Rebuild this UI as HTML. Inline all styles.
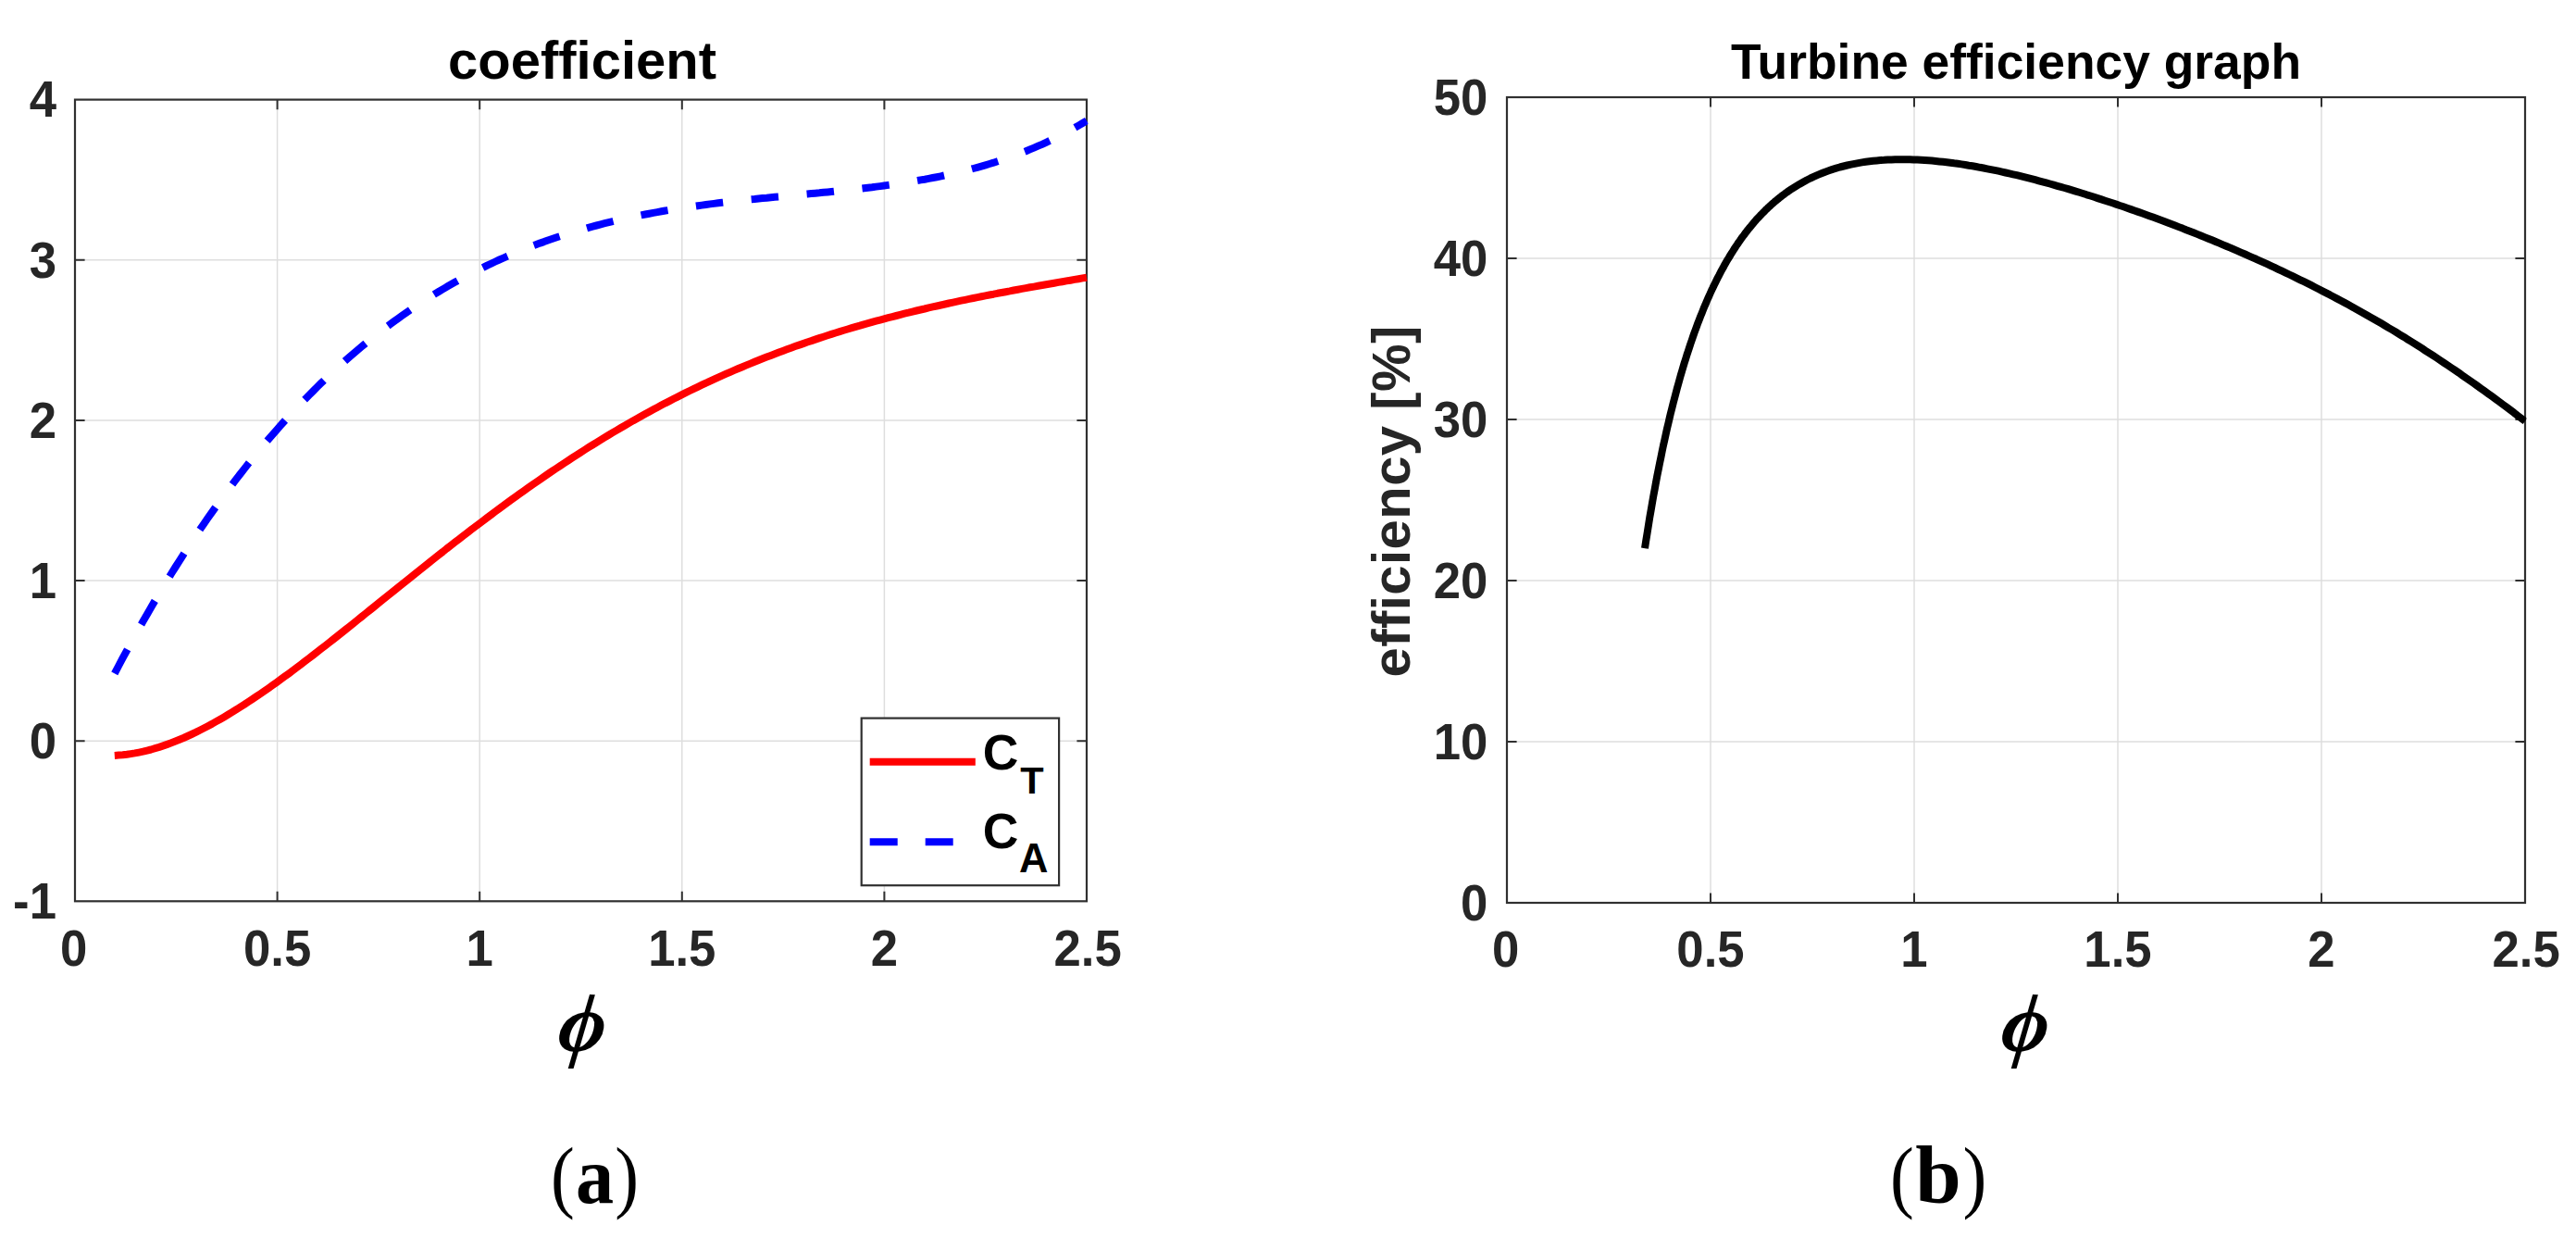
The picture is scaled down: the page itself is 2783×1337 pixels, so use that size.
<!DOCTYPE html>
<html lang="en"><head><meta charset="utf-8"><title>Turbine coefficient and efficiency graphs</title>
<style>html,body{margin:0;padding:0;background:#fff}body{width:2783px;height:1337px;overflow:hidden}svg{display:block}text{font-family:"Liberation Sans",Arial,Helvetica,sans-serif;font-weight:bold}.tk{font-size:55.2px;fill:#262626}.ser,.ser text{font-family:"Liberation Serif","Times New Roman",serif}</style></head><body>
<svg width="2783" height="1337" viewBox="0 0 2783 1337">
<rect width="2783" height="1337" fill="#fff"/>
<defs><clipPath id="cl"><rect x="81.0" y="107.6" width="1094.4" height="865.7"/></clipPath><clipPath id="cr"><rect x="1628.0" y="105.0" width="1101.4" height="870.0"/></clipPath></defs>
<path d="M299.6 107.6 V973.3 M518.2 107.6 V973.3 M736.8 107.6 V973.3 M955.4 107.6 V973.3 M81.0 800.2 H1174.0 M81.0 627.0 H1174.0 M81.0 453.9 H1174.0 M81.0 280.7 H1174.0" stroke="#dedede" stroke-width="1.5" fill="none"/>
<path d="M299.6 973.3 v-10.6 M299.6 107.6 v10.6 M518.2 973.3 v-10.6 M518.2 107.6 v10.6 M736.8 973.3 v-10.6 M736.8 107.6 v10.6 M955.4 973.3 v-10.6 M955.4 107.6 v10.6 M81.0 800.2 h10.6 M1174.0 800.2 h-10.6 M81.0 627.0 h10.6 M1174.0 627.0 h-10.6 M81.0 453.9 h10.6 M1174.0 453.9 h-10.6 M81.0 280.7 h10.6 M1174.0 280.7 h-10.6" stroke="#303030" stroke-width="2" fill="none"/>
<rect x="81.0" y="107.6" width="1093.0" height="865.7" fill="none" stroke="#303030" stroke-width="2.2"/>
<g clip-path="url(#cl)" fill="none" stroke-width="8" stroke-linejoin="round">
<path d="M123.8 815.9 L128.2 815.6 L132.6 815.3 L137.0 814.8 L141.3 814.1 L145.7 813.4 L150.1 812.6 L154.5 811.7 L158.9 810.6 L163.2 809.5 L167.6 808.2 L172.0 806.9 L176.4 805.4 L180.7 803.9 L185.1 802.3 L189.5 800.6 L193.9 798.8 L198.2 797.0 L202.6 795.0 L207.0 793.0 L211.4 790.9 L215.7 788.7 L220.1 786.5 L224.5 784.2 L228.9 781.9 L233.2 779.4 L237.6 776.9 L242.0 774.4 L246.4 771.8 L250.7 769.2 L255.1 766.4 L259.5 763.7 L263.9 760.9 L268.2 758.0 L272.6 755.1 L277.0 752.2 L281.4 749.2 L285.7 746.2 L290.1 743.2 L294.5 740.1 L298.9 736.9 L303.2 733.8 L307.6 730.6 L312.0 727.4 L316.4 724.1 L320.7 720.9 L325.1 717.6 L329.5 714.2 L333.9 710.9 L338.3 707.5 L342.6 704.1 L347.0 700.7 L351.4 697.3 L355.8 693.9 L360.1 690.5 L364.5 687.0 L368.9 683.5 L373.3 680.0 L377.6 676.6 L382.0 673.1 L386.4 669.5 L390.8 666.0 L395.1 662.5 L399.5 659.0 L403.9 655.5 L408.3 651.9 L412.6 648.4 L417.0 644.9 L421.4 641.4 L425.8 637.8 L430.1 634.3 L434.5 630.8 L438.9 627.3 L443.3 623.8 L447.6 620.3 L452.0 616.8 L456.4 613.3 L460.8 609.8 L465.1 606.3 L469.5 602.9 L473.9 599.4 L478.3 596.0 L482.6 592.5 L487.0 589.1 L491.4 585.7 L495.8 582.3 L500.2 578.9 L504.5 575.6 L508.9 572.2 L513.3 568.9 L517.7 565.6 L522.0 562.3 L526.4 559.0 L530.8 555.7 L535.2 552.4 L539.5 549.2 L543.9 546.0 L548.3 542.8 L552.7 539.6 L557.0 536.5 L561.4 533.3 L565.8 530.2 L570.2 527.1 L574.5 524.0 L578.9 521.0 L583.3 517.9 L587.7 514.9 L592.0 511.9 L596.4 508.9 L600.8 506.0 L605.2 503.1 L609.5 500.2 L613.9 497.3 L618.3 494.4 L622.7 491.6 L627.0 488.8 L631.4 486.0 L635.8 483.2 L640.2 480.5 L644.5 477.8 L648.9 475.1 L653.3 472.4 L657.7 469.8 L662.0 467.2 L666.4 464.6 L670.8 462.0 L675.2 459.5 L679.6 456.9 L683.9 454.4 L688.3 452.0 L692.7 449.5 L697.1 447.1 L701.4 444.7 L705.8 442.3 L710.2 440.0 L714.6 437.6 L718.9 435.3 L723.3 433.1 L727.7 430.8 L732.1 428.6 L736.4 426.4 L740.8 424.2 L745.2 422.0 L749.6 419.9 L753.9 417.8 L758.3 415.7 L762.7 413.7 L767.1 411.6 L771.4 409.6 L775.8 407.6 L780.2 405.7 L784.6 403.7 L788.9 401.8 L793.3 399.9 L797.7 398.0 L802.1 396.2 L806.4 394.4 L810.8 392.6 L815.2 390.8 L819.6 389.0 L823.9 387.3 L828.3 385.6 L832.7 383.9 L837.1 382.2 L841.5 380.5 L845.8 378.9 L850.2 377.3 L854.6 375.7 L859.0 374.1 L863.3 372.6 L867.7 371.1 L872.1 369.5 L876.5 368.1 L880.8 366.6 L885.2 365.1 L889.6 363.7 L894.0 362.3 L898.3 360.9 L902.7 359.5 L907.1 358.2 L911.5 356.8 L915.8 355.5 L920.2 354.2 L924.6 352.9 L929.0 351.7 L933.3 350.4 L937.7 349.2 L942.1 347.9 L946.5 346.7 L950.8 345.6 L955.2 344.4 L959.6 343.2 L964.0 342.1 L968.3 341.0 L972.7 339.8 L977.1 338.7 L981.5 337.7 L985.8 336.6 L990.2 335.5 L994.6 334.5 L999.0 333.5 L1003.3 332.4 L1007.7 331.4 L1012.1 330.5 L1016.5 329.5 L1020.9 328.5 L1025.2 327.5 L1029.6 326.6 L1034.0 325.7 L1038.4 324.7 L1042.7 323.8 L1047.1 322.9 L1051.5 322.0 L1055.9 321.1 L1060.2 320.3 L1064.6 319.4 L1069.0 318.5 L1073.4 317.7 L1077.7 316.8 L1082.1 316.0 L1086.5 315.2 L1090.9 314.4 L1095.2 313.5 L1099.6 312.7 L1104.0 311.9 L1108.4 311.1 L1112.7 310.3 L1117.1 309.6 L1121.5 308.8 L1125.9 308.0 L1130.2 307.2 L1134.6 306.5 L1139.0 305.7 L1143.4 304.9 L1147.7 304.2 L1152.1 303.4 L1156.5 302.7 L1160.9 301.9 L1165.2 301.2 L1169.6 300.4 L1174.0 299.7" stroke="#f00"/>
<path d="M123.8 727.3 L128.2 719.0 L132.6 710.7 L137.0 702.6 L141.3 694.6 L145.7 686.6 L150.1 678.8 L154.5 671.1 L158.9 663.4 L163.2 655.9 L167.6 648.4 L172.0 641.0 L176.4 633.8 L180.7 626.6 L185.1 619.5 L189.5 612.5 L193.9 605.6 L198.2 598.8 L202.6 592.0 L207.0 585.4 L211.4 578.8 L215.7 572.3 L220.1 566.0 L224.5 559.6 L228.9 553.4 L233.2 547.3 L237.6 541.2 L242.0 535.2 L246.4 529.3 L250.7 523.5 L255.1 517.7 L259.5 512.0 L263.9 506.4 L268.2 500.9 L272.6 495.5 L277.0 490.1 L281.4 484.8 L285.7 479.6 L290.1 474.4 L294.5 469.3 L298.9 464.3 L303.2 459.4 L307.6 454.5 L312.0 449.7 L316.4 445.0 L320.7 440.3 L325.1 435.7 L329.5 431.2 L333.9 426.7 L338.3 422.3 L342.6 418.0 L347.0 413.7 L351.4 409.5 L355.8 405.3 L360.1 401.2 L364.5 397.2 L368.9 393.3 L373.3 389.3 L377.6 385.5 L382.0 381.7 L386.4 378.0 L390.8 374.3 L395.1 370.7 L399.5 367.2 L403.9 363.7 L408.3 360.2 L412.6 356.9 L417.0 353.5 L421.4 350.3 L425.8 347.0 L430.1 343.9 L434.5 340.8 L438.9 337.7 L443.3 334.7 L447.6 331.7 L452.0 328.8 L456.4 326.0 L460.8 323.1 L465.1 320.4 L469.5 317.7 L473.9 315.0 L478.3 312.4 L482.6 309.8 L487.0 307.3 L491.4 304.8 L495.8 302.4 L500.2 300.0 L504.5 297.7 L508.9 295.4 L513.3 293.1 L517.7 290.9 L522.0 288.8 L526.4 286.6 L530.8 284.6 L535.2 282.5 L539.5 280.5 L543.9 278.6 L548.3 276.6 L552.7 274.7 L557.0 272.9 L561.4 271.1 L565.8 269.3 L570.2 267.6 L574.5 265.9 L578.9 264.3 L583.3 262.6 L587.7 261.1 L592.0 259.5 L596.4 258.0 L600.8 256.5 L605.2 255.1 L609.5 253.6 L613.9 252.3 L618.3 250.9 L622.7 249.6 L627.0 248.3 L631.4 247.1 L635.8 245.8 L640.2 244.6 L644.5 243.5 L648.9 242.3 L653.3 241.2 L657.7 240.1 L662.0 239.1 L666.4 238.0 L670.8 237.0 L675.2 236.0 L679.6 235.1 L683.9 234.2 L688.3 233.3 L692.7 232.4 L697.1 231.5 L701.4 230.7 L705.8 229.9 L710.2 229.1 L714.6 228.3 L718.9 227.5 L723.3 226.8 L727.7 226.1 L732.1 225.4 L736.4 224.7 L740.8 224.1 L745.2 223.4 L749.6 222.8 L753.9 222.2 L758.3 221.6 L762.7 221.0 L767.1 220.4 L771.4 219.9 L775.8 219.3 L780.2 218.8 L784.6 218.3 L788.9 217.8 L793.3 217.3 L797.7 216.8 L802.1 216.3 L806.4 215.9 L810.8 215.4 L815.2 215.0 L819.6 214.5 L823.9 214.1 L828.3 213.7 L832.7 213.2 L837.1 212.8 L841.5 212.4 L845.8 212.0 L850.2 211.6 L854.6 211.2 L859.0 210.7 L863.3 210.3 L867.7 209.9 L872.1 209.5 L876.5 209.1 L880.8 208.7 L885.2 208.3 L889.6 207.8 L894.0 207.4 L898.3 207.0 L902.7 206.5 L907.1 206.1 L911.5 205.6 L915.8 205.2 L920.2 204.7 L924.6 204.2 L929.0 203.7 L933.3 203.2 L937.7 202.7 L942.1 202.2 L946.5 201.6 L950.8 201.1 L955.2 200.5 L959.6 199.9 L964.0 199.3 L968.3 198.6 L972.7 198.0 L977.1 197.3 L981.5 196.6 L985.8 195.9 L990.2 195.2 L994.6 194.4 L999.0 193.7 L1003.3 192.9 L1007.7 192.0 L1012.1 191.2 L1016.5 190.3 L1020.9 189.3 L1025.2 188.4 L1029.6 187.4 L1034.0 186.4 L1038.4 185.4 L1042.7 184.3 L1047.1 183.2 L1051.5 182.0 L1055.9 180.8 L1060.2 179.6 L1064.6 178.3 L1069.0 177.0 L1073.4 175.7 L1077.7 174.3 L1082.1 172.8 L1086.5 171.3 L1090.9 169.8 L1095.2 168.2 L1099.6 166.6 L1104.0 164.9 L1108.4 163.2 L1112.7 161.4 L1117.1 159.6 L1121.5 157.7 L1125.9 155.8 L1130.2 153.8 L1134.6 151.7 L1139.0 149.6 L1143.4 147.4 L1147.7 145.2 L1152.1 142.9 L1156.5 140.5 L1160.9 138.1 L1165.2 135.6 L1169.6 133.0 L1174.0 130.4" stroke="#00f" stroke-dasharray="29.5 30.7"/>
</g>
<text class="tk" transform="translate(79.6 1042.8) scale(0.955 1)" text-anchor="middle">0</text>
<text class="tk" transform="translate(299.6 1042.8) scale(0.955 1)" text-anchor="middle">0.5</text>
<text class="tk" transform="translate(518.2 1042.8) scale(0.955 1)" text-anchor="middle">1</text>
<text class="tk" transform="translate(736.8 1042.8) scale(0.955 1)" text-anchor="middle">1.5</text>
<text class="tk" transform="translate(955.4 1042.8) scale(0.955 1)" text-anchor="middle">2</text>
<text class="tk" transform="translate(1175.2 1042.8) scale(0.955 1)" text-anchor="middle">2.5</text>
<text class="tk" transform="translate(61.0 992.1) scale(0.955 1)" text-anchor="end">-1</text>
<text class="tk" transform="translate(61.0 819.0) scale(0.955 1)" text-anchor="end">0</text>
<text class="tk" transform="translate(61.0 645.8) scale(0.955 1)" text-anchor="end">1</text>
<text class="tk" transform="translate(61.0 472.7) scale(0.955 1)" text-anchor="end">2</text>
<text class="tk" transform="translate(61.0 299.5) scale(0.955 1)" text-anchor="end">3</text>
<text class="tk" transform="translate(61.0 126.4) scale(0.955 1)" text-anchor="end">4</text>
<text x="629.0" y="85.2" text-anchor="middle" font-size="58" fill="#000">coefficient</text>
<rect x="930.7" y="775.6" width="213.4" height="180.6" fill="#fff" stroke="#303030" stroke-width="2.2"/>
<path d="M939.7 822.8 H1053.8" stroke="#f00" stroke-width="8"/>
<path d="M939.7 909.3 H1053.8" stroke="#00f" stroke-width="8" stroke-dasharray="30 30"/>
<text x="1061.8" y="831.2" font-size="53.5" fill="#000">C<tspan font-size="41.5" dx="1.8" dy="26.2">T</tspan></text>
<text x="1061.8" y="916" font-size="53.5" fill="#000">C<tspan font-size="43.5" dx="0.6" dy="26.2">A</tspan></text>
<text class="ser" transform="translate(601.0 1135.4) skewX(-6.5) scale(.885 .89)" font-size="100" font-style="italic" fill="#000">ϕ</text>
<g class="ser" fill="#000"><text transform="translate(595.0 1299.2) scale(.9 1)" font-size="86" style="font-weight:normal">(</text><text transform="translate(621.9 1299) scale(.925 1)" font-size="89">a</text><text transform="translate(664.2 1299.2) scale(.9 1)" font-size="86" style="font-weight:normal">)</text></g>
<path d="M1848.0 105.0 V975.0 M2068.0 105.0 V975.0 M2288.0 105.0 V975.0 M2508.0 105.0 V975.0 M1628.0 801.0 H2728.0 M1628.0 627.0 H2728.0 M1628.0 453.0 H2728.0 M1628.0 279.0 H2728.0" stroke="#dedede" stroke-width="1.5" fill="none"/>
<path d="M1848.0 975.0 v-10.6 M1848.0 105.0 v10.6 M2068.0 975.0 v-10.6 M2068.0 105.0 v10.6 M2288.0 975.0 v-10.6 M2288.0 105.0 v10.6 M2508.0 975.0 v-10.6 M2508.0 105.0 v10.6 M1628.0 801.0 h10.6 M2728.0 801.0 h-10.6 M1628.0 627.0 h10.6 M2728.0 627.0 h-10.6 M1628.0 453.0 h10.6 M2728.0 453.0 h-10.6 M1628.0 279.0 h10.6 M2728.0 279.0 h-10.6" stroke="#303030" stroke-width="2" fill="none"/>
<rect x="1628.0" y="105.0" width="1100.0" height="870.0" fill="none" stroke="#303030" stroke-width="2.2"/>
<g clip-path="url(#cr)" fill="none" stroke-width="8" stroke-linejoin="round">
<path d="M1777.0 592.2 L1778.3 583.6 L1779.7 575.1 L1781.0 566.8 L1782.3 558.7 L1783.7 550.8 L1785.0 543.1 L1786.3 535.6 L1787.7 528.2 L1789.0 521.0 L1790.3 514.0 L1791.7 507.1 L1793.0 500.4 L1794.4 493.8 L1795.7 487.3 L1797.0 481.0 L1798.4 474.9 L1799.7 468.8 L1801.0 462.9 L1802.4 457.1 L1803.7 451.5 L1805.0 445.9 L1806.4 440.5 L1807.7 435.2 L1809.1 430.0 L1810.4 424.9 L1811.7 419.9 L1813.1 415.0 L1814.4 410.2 L1815.7 405.5 L1817.1 400.9 L1818.4 396.4 L1819.7 392.0 L1821.1 387.7 L1822.4 383.4 L1823.8 379.3 L1825.1 375.2 L1826.4 371.2 L1827.8 367.2 L1829.1 363.4 L1830.4 359.6 L1831.8 355.9 L1833.1 352.3 L1834.4 348.7 L1835.8 345.2 L1837.1 341.8 L1838.5 338.4 L1839.8 335.1 L1841.1 331.8 L1842.5 328.7 L1843.8 325.5 L1845.1 322.5 L1846.5 319.5 L1847.8 316.5 L1849.1 313.6 L1850.5 310.8 L1851.8 308.0 L1853.2 305.2 L1854.5 302.5 L1855.8 299.9 L1857.2 297.3 L1858.5 294.7 L1859.8 292.2 L1861.2 289.8 L1862.5 287.3 L1863.8 285.0 L1865.2 282.6 L1866.5 280.3 L1867.9 278.1 L1869.2 275.9 L1870.5 273.7 L1871.9 271.6 L1873.2 269.5 L1874.5 267.5 L1875.9 265.4 L1877.2 263.5 L1878.5 261.5 L1879.9 259.6 L1881.2 257.7 L1882.5 255.9 L1883.9 254.1 L1885.2 252.3 L1886.6 250.5 L1887.9 248.8 L1889.2 247.1 L1890.6 245.5 L1891.9 243.9 L1893.2 242.3 L1894.6 240.7 L1895.9 239.1 L1897.2 237.6 L1898.6 236.1 L1899.9 234.7 L1901.3 233.2 L1902.6 231.8 L1903.9 230.5 L1905.3 229.1 L1906.6 227.8 L1907.9 226.4 L1909.3 225.2 L1910.6 223.9 L1911.9 222.7 L1913.3 221.4 L1914.6 220.2 L1916.0 219.1 L1917.3 217.9 L1918.6 216.8 L1920.0 215.7 L1921.3 214.6 L1922.6 213.5 L1924.0 212.5 L1925.3 211.4 L1926.6 210.4 L1928.0 209.4 L1929.3 208.4 L1930.7 207.5 L1932.0 206.5 L1933.3 205.6 L1934.7 204.7 L1936.0 203.8 L1940.0 201.3 L1944.0 198.9 L1947.9 196.7 L1951.9 194.5 L1955.9 192.5 L1959.9 190.7 L1963.9 188.9 L1967.8 187.3 L1971.8 185.7 L1975.8 184.3 L1979.8 182.9 L1983.8 181.7 L1987.7 180.5 L1991.7 179.5 L1995.7 178.5 L1999.7 177.6 L2003.7 176.8 L2007.6 176.1 L2011.6 175.4 L2015.6 174.8 L2019.6 174.3 L2023.6 173.8 L2027.5 173.4 L2031.5 173.0 L2035.5 172.8 L2039.5 172.5 L2043.5 172.4 L2047.4 172.2 L2051.4 172.2 L2055.4 172.2 L2059.4 172.2 L2063.4 172.3 L2067.3 172.4 L2071.3 172.5 L2075.3 172.7 L2079.3 173.0 L2083.3 173.3 L2087.2 173.6 L2091.2 174.0 L2095.2 174.4 L2099.2 174.8 L2103.2 175.2 L2107.1 175.7 L2111.1 176.3 L2115.1 176.8 L2119.1 177.4 L2123.1 178.0 L2127.0 178.7 L2131.0 179.3 L2135.0 180.0 L2139.0 180.8 L2143.0 181.5 L2146.9 182.3 L2150.9 183.1 L2154.9 183.9 L2158.9 184.7 L2162.9 185.6 L2166.8 186.5 L2170.8 187.4 L2174.8 188.3 L2178.8 189.2 L2182.8 190.2 L2186.7 191.2 L2190.7 192.2 L2194.7 193.2 L2198.7 194.2 L2202.7 195.3 L2206.6 196.3 L2210.6 197.4 L2214.6 198.5 L2218.6 199.6 L2222.6 200.8 L2226.5 201.9 L2230.5 203.0 L2234.5 204.2 L2238.5 205.4 L2242.5 206.6 L2246.4 207.8 L2250.4 209.0 L2254.4 210.3 L2258.4 211.5 L2262.4 212.8 L2266.3 214.1 L2270.3 215.4 L2274.3 216.7 L2278.3 218.0 L2282.3 219.3 L2286.2 220.6 L2290.2 222.0 L2294.2 223.3 L2298.2 224.7 L2302.2 226.1 L2306.1 227.5 L2310.1 228.9 L2314.1 230.3 L2318.1 231.7 L2322.1 233.2 L2326.0 234.6 L2330.0 236.1 L2334.0 237.5 L2338.0 239.0 L2341.9 240.5 L2345.9 242.0 L2349.9 243.5 L2353.9 245.1 L2357.9 246.6 L2361.8 248.2 L2365.8 249.7 L2369.8 251.3 L2373.8 252.9 L2377.8 254.5 L2381.7 256.1 L2385.7 257.7 L2389.7 259.3 L2393.7 261.0 L2397.7 262.6 L2401.6 264.3 L2405.6 266.0 L2409.6 267.6 L2413.6 269.4 L2417.6 271.1 L2421.5 272.8 L2425.5 274.5 L2429.5 276.3 L2433.5 278.1 L2437.5 279.8 L2441.4 281.6 L2445.4 283.4 L2449.4 285.2 L2453.4 287.1 L2457.4 288.9 L2461.3 290.8 L2465.3 292.7 L2469.3 294.6 L2473.3 296.5 L2477.3 298.4 L2481.2 300.3 L2485.2 302.3 L2489.2 304.2 L2493.2 306.2 L2497.2 308.2 L2501.1 310.2 L2505.1 312.3 L2509.1 314.3 L2513.1 316.4 L2517.1 318.4 L2521.0 320.5 L2525.0 322.6 L2529.0 324.8 L2533.0 326.9 L2537.0 329.1 L2540.9 331.3 L2544.9 333.5 L2548.9 335.7 L2552.9 337.9 L2556.9 340.2 L2560.8 342.4 L2564.8 344.7 L2568.8 347.0 L2572.8 349.3 L2576.8 351.7 L2580.7 354.1 L2584.7 356.4 L2588.7 358.8 L2592.7 361.3 L2596.7 363.7 L2600.6 366.2 L2604.6 368.6 L2608.6 371.1 L2612.6 373.7 L2616.6 376.2 L2620.5 378.8 L2624.5 381.3 L2628.5 383.9 L2632.5 386.5 L2636.5 389.2 L2640.4 391.8 L2644.4 394.5 L2648.4 397.2 L2652.4 399.9 L2656.4 402.6 L2660.3 405.4 L2664.3 408.2 L2668.3 411.0 L2672.3 413.8 L2676.3 416.6 L2680.2 419.4 L2684.2 422.3 L2688.2 425.2 L2692.2 428.1 L2696.2 431.0 L2700.1 433.9 L2704.1 436.9 L2708.1 439.8 L2712.1 442.8 L2716.1 445.8 L2720.0 448.9 L2724.0 451.9 L2728.0 454.9" stroke="#000"/>
</g>
<text class="tk" transform="translate(1626.6 1043.8) scale(0.955 1)" text-anchor="middle">0</text>
<text class="tk" transform="translate(1848.0 1043.8) scale(0.955 1)" text-anchor="middle">0.5</text>
<text class="tk" transform="translate(2068.0 1043.8) scale(0.955 1)" text-anchor="middle">1</text>
<text class="tk" transform="translate(2288.0 1043.8) scale(0.955 1)" text-anchor="middle">1.5</text>
<text class="tk" transform="translate(2508.0 1043.8) scale(0.955 1)" text-anchor="middle">2</text>
<text class="tk" transform="translate(2729.2 1043.8) scale(0.955 1)" text-anchor="middle">2.5</text>
<text class="tk" transform="translate(1607.3 993.8) scale(0.955 1)" text-anchor="end">0</text>
<text class="tk" transform="translate(1607.3 819.8) scale(0.955 1)" text-anchor="end">10</text>
<text class="tk" transform="translate(1607.3 645.8) scale(0.955 1)" text-anchor="end">20</text>
<text class="tk" transform="translate(1607.3 471.8) scale(0.955 1)" text-anchor="end">30</text>
<text class="tk" transform="translate(1607.3 297.8) scale(0.955 1)" text-anchor="end">40</text>
<text class="tk" transform="translate(1607.3 123.8) scale(0.955 1)" text-anchor="end">50</text>
<text x="2178.0" y="85" text-anchor="middle" font-size="53.4" fill="#000">Turbine efficiency graph</text>
<text transform="translate(1522.7 541.4) rotate(-90)" text-anchor="middle" font-size="58" letter-spacing="0.45" fill="#262626">efficiency [%]</text>
<text class="ser" transform="translate(2159.9 1135.4) skewX(-6.5) scale(.885 .89)" font-size="100" font-style="italic" fill="#000">ϕ</text>
<g class="ser" fill="#000"><text transform="translate(2042.0 1299.2) scale(.9 1)" font-size="86" style="font-weight:normal">(</text><text transform="translate(2069.2 1299) scale(1 1)" font-size="89">b</text><text transform="translate(2120.4 1299.2) scale(.9 1)" font-size="86" style="font-weight:normal">)</text></g>
</svg></body></html>
